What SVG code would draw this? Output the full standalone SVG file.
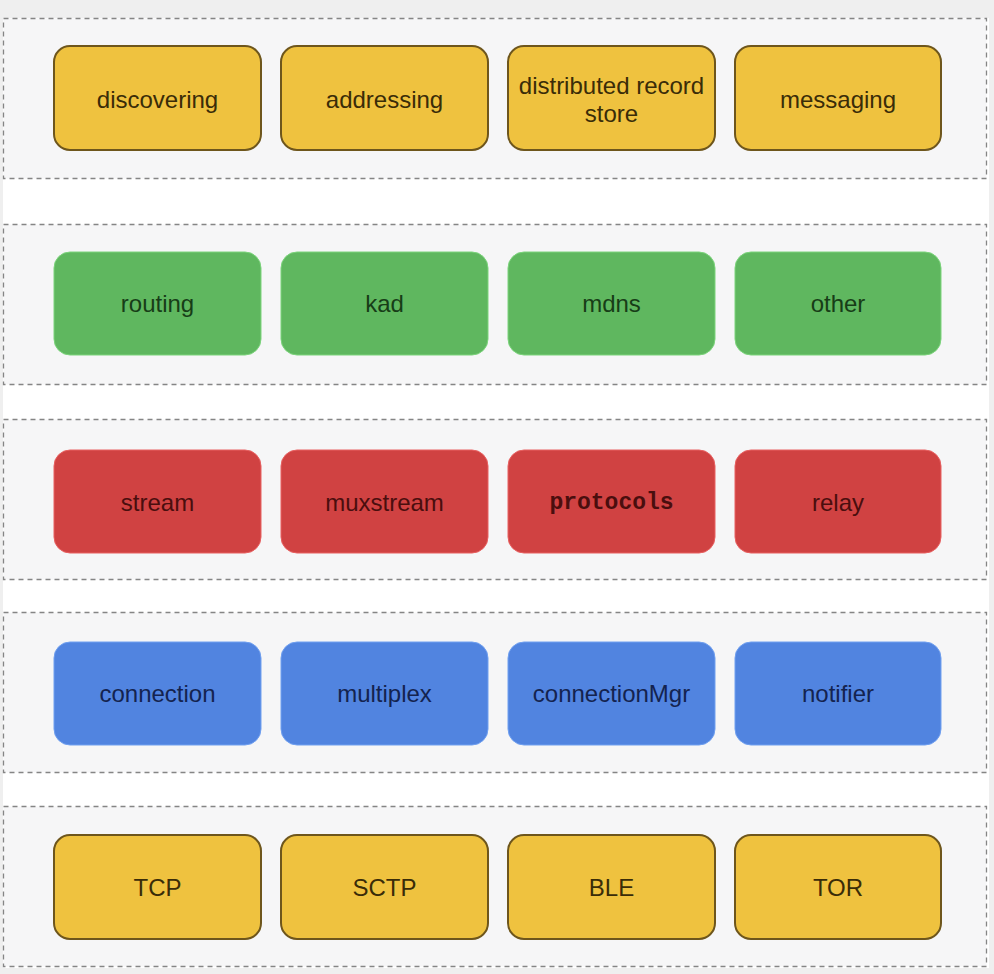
<svg xmlns="http://www.w3.org/2000/svg" width="994" height="974" viewBox="0 0 994 974">
<style>
.band{fill:#f6f6f7;stroke:#858585;stroke-width:1.3;stroke-dasharray:5 4}
.n{stroke-width:2}
.y{fill:#efc23f;stroke:#6e561c}
.g{fill:#5fb75f;stroke:#7cd47c;stroke-width:1}
.r{fill:#d04242;stroke:#e86060;stroke-width:1}
.b{fill:#5184e0;stroke:#70a0f0;stroke-width:1}
text{font-family:"Liberation Sans",Arial,sans-serif;font-size:24px;text-anchor:middle;dominant-baseline:central}
.ty{fill:#3a2c08}
.tg{fill:#173d17}
.tr{fill:#4a0e0e}
.tb{fill:#14234f}
.mono{font-family:"Liberation Mono","Courier New",monospace;font-weight:bold;font-size:23px}
</style>
<rect x="0" y="0" width="994" height="974" fill="#efefef"/>
<rect x="3" y="18" width="986" height="950" fill="#ffffff"/>
<g id="bands">
<rect class="band" x="3.5" y="18.5" width="983" height="160"/>
<rect class="band" x="3.5" y="224.5" width="983" height="160"/>
<rect class="band" x="3.5" y="419.5" width="983" height="160"/>
<rect class="band" x="3.5" y="612.5" width="983" height="160"/>
<rect class="band" x="3.5" y="806.5" width="983" height="160"/>
</g>
<g id="connectors"></g>
<g id="n-discovering"><rect class="n y" x="54" y="46" width="207" height="104" rx="16"/><text class="ty" x="157.5" y="99">discovering</text></g>
<g id="n-addressing"><rect class="n y" x="281" y="46" width="207" height="104" rx="16"/><text class="ty" x="384.5" y="99">addressing</text></g>
<g id="n-drs"><rect class="n y" x="508" y="46" width="207" height="104" rx="16"/><text class="ty" x="611.5" y="85">distributed record</text><text class="ty" x="611.5" y="113">store</text></g>
<g id="n-messaging"><rect class="n y" x="735" y="46" width="206" height="104" rx="16"/><text class="ty" x="838" y="99">messaging</text></g>

<g id="n-routing"><rect class="n g" x="54" y="252" width="207" height="103" rx="16"/><text class="tg" x="157.5" y="303">routing</text></g>
<g id="n-kad"><rect class="n g" x="281" y="252" width="207" height="103" rx="16"/><text class="tg" x="384.5" y="303">kad</text></g>
<g id="n-mdns"><rect class="n g" x="508" y="252" width="207" height="103" rx="16"/><text class="tg" x="611.5" y="303">mdns</text></g>
<g id="n-other"><rect class="n g" x="735" y="252" width="206" height="103" rx="16"/><text class="tg" x="838" y="303">other</text></g>

<g id="n-stream"><rect class="n r" x="54" y="450" width="207" height="103" rx="16"/><text class="tr" x="157.5" y="502">stream</text></g>
<g id="n-muxstream"><rect class="n r" x="281" y="450" width="207" height="103" rx="16"/><text class="tr" x="384.5" y="502">muxstream</text></g>
<g id="n-protocols"><rect class="n r" x="508" y="450" width="207" height="103" rx="16"/><text class="tr mono" x="611.5" y="503">protocols</text></g>
<g id="n-relay"><rect class="n r" x="735" y="450" width="206" height="103" rx="16"/><text class="tr" x="838" y="502">relay</text></g>

<g id="n-connection"><rect class="n b" x="54" y="642" width="207" height="103" rx="16"/><text class="tb" x="157.5" y="693">connection</text></g>
<g id="n-multiplex"><rect class="n b" x="281" y="642" width="207" height="103" rx="16"/><text class="tb" x="384.5" y="693">multiplex</text></g>
<g id="n-connectionMgr"><rect class="n b" x="508" y="642" width="207" height="103" rx="16"/><text class="tb" x="611.5" y="693">connectionMgr</text></g>
<g id="n-notifier"><rect class="n b" x="735" y="642" width="206" height="103" rx="16"/><text class="tb" x="838" y="693">notifier</text></g>

<g id="n-tcp"><rect class="n y" x="54" y="835" width="207" height="104" rx="16"/><text class="ty" x="157.5" y="887">TCP</text></g>
<g id="n-sctp"><rect class="n y" x="281" y="835" width="207" height="104" rx="16"/><text class="ty" x="384.5" y="887">SCTP</text></g>
<g id="n-ble"><rect class="n y" x="508" y="835" width="207" height="104" rx="16"/><text class="ty" x="611.5" y="887">BLE</text></g>
<g id="n-tor"><rect class="n y" x="735" y="835" width="206" height="104" rx="16"/><text class="ty" x="838" y="887">TOR</text></g>
</svg>
